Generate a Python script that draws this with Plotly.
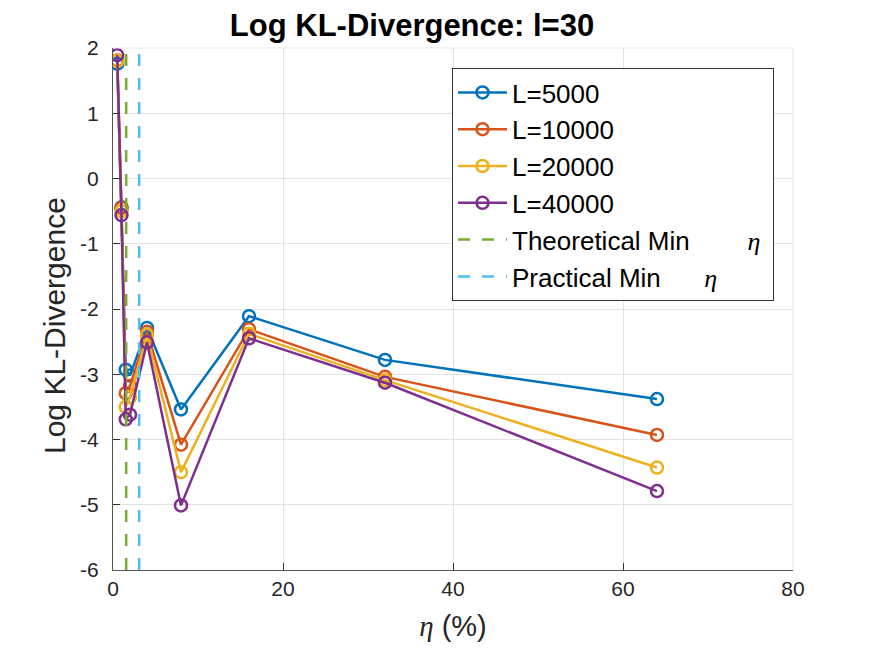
import plotly.graph_objects as go

eta = [0.5, 1, 1.5, 2, 4, 8, 16, 32, 64]
kl_5000 = [1.76, -0.44, -2.93, -3.02, -2.29, -3.54, -2.11, -2.78, -3.38]
kl_10000 = [1.81, -0.45, -3.29, -3.18, -2.35, -4.08, -2.31, -3.04, -3.93]
kl_20000 = [1.80, -0.50, -3.50, -3.35, -2.40, -4.50, -2.38, -3.09, -4.43]
kl_40000 = [1.89, -0.56, -3.69, -3.62, -2.51, -5.01, -2.45, -3.13, -4.79]
series_names = ["L=5000", "L=10000", "L=20000", "L=40000"]
series_colors = ["#0072BD", "#D95319", "#EDB120", "#7E2F8E"]

theoretical_min_eta = 1.55
practical_min_eta = 3.08
y_range = [-6, 2]

x_ticks = [0, 20, 40, 60, 80]
x_ticklabels = ["0", "20", "40", "60", "80"]
y_ticks = [-6, -5, -4, -3, -2, -1, 0, 1, 2]
y_ticklabels = ["-6", "-5", "-4", "-3", "-2", "-1", "0", "1", "2"]

FONT = "Liberation Sans, Arial, sans-serif"
ETA = '<span style="font-family:Liberation Serif"><i>η</i></span>'

fig = go.Figure()
for name, vals, col in zip(series_names, [kl_5000, kl_10000, kl_20000, kl_40000], series_colors):
    fig.add_trace(go.Scatter(
        x=eta, y=vals, mode="lines+markers", name=name,
        line=dict(color=col, width=2.5),
        marker=dict(symbol="circle-open", size=12, color=col, line=dict(width=2.5, color=col)),
    ))

nb = "\u00a0"
fig.add_trace(go.Scatter(
    x=[theoretical_min_eta, theoretical_min_eta], y=y_range, mode="lines",
    name="Theoretical Min" + nb * 8 + ETA + nb,
    line=dict(color="#77AC30", width=2.5, dash="12px,12px"),
))
fig.add_trace(go.Scatter(
    x=[practical_min_eta, practical_min_eta], y=y_range, mode="lines",
    name="Practical Min" + nb * 6 + ETA,
    line=dict(color="#4DBEEE", width=2.5, dash="12px,12px"),
))

axis_common = dict(
    showgrid=True, gridcolor="#e3e3e3", gridwidth=1,
    showline=True, linecolor="#555555", linewidth=1.2, mirror=False,
    ticks="inside", ticklen=7, tickcolor="#333333", tickwidth=1,
    zeroline=False, tickfont=dict(family=FONT, size=21, color="#262626"),
)

fig.update_layout(
    width=875, height=657,
    margin=dict(l=113, r=82, t=48, b=87),
    paper_bgcolor="white", plot_bgcolor="white",
    font=dict(family=FONT, color="#262626"),
    title=dict(text="<b>Log KL-Divergence: l=30</b>", x=(412 - 113) / 680, xref="paper",
               xanchor="center", y=1 - 25 / 657, yref="container", yanchor="middle",
               font=dict(family=FONT, size=31, color="black")),
    xaxis=dict(range=[0, 80], tickvals=x_ticks, ticktext=x_ticklabels,
               title=dict(text=ETA + " (%)", font=dict(family=FONT, size=29, color="#262626"), standoff=16),
               **axis_common),
    yaxis=dict(range=y_range, tickvals=y_ticks, ticktext=y_ticklabels, ticklabelstandoff=9,
               **axis_common),
    legend=dict(x=(452 - 113) / 680, y=(570 - 68) / 522, xanchor="left", yanchor="top",
                bgcolor="white", bordercolor="#333333", borderwidth=1,
                font=dict(family=FONT, size=26, color="black"), itemwidth=49),
    showlegend=True,
)

fig.add_annotation(text="Log KL-Divergence", textangle=-90, xref="paper", yref="paper",
                   x=(54 - 113) / 680, y=(570 - 326) / 522, xanchor="center", yanchor="middle",
                   showarrow=False, font=dict(family=FONT, size=30, color="#262626"))

fig.add_shape(type="line", xref="paper", yref="paper", x0=0, x1=1, y0=1, y1=1,
              line=dict(color="#e3e3e3", width=1))
fig.add_shape(type="line", xref="paper", yref="paper", x0=1, x1=1, y0=0, y1=1,
              line=dict(color="#e3e3e3", width=1))

fig.write_html("out.html")
